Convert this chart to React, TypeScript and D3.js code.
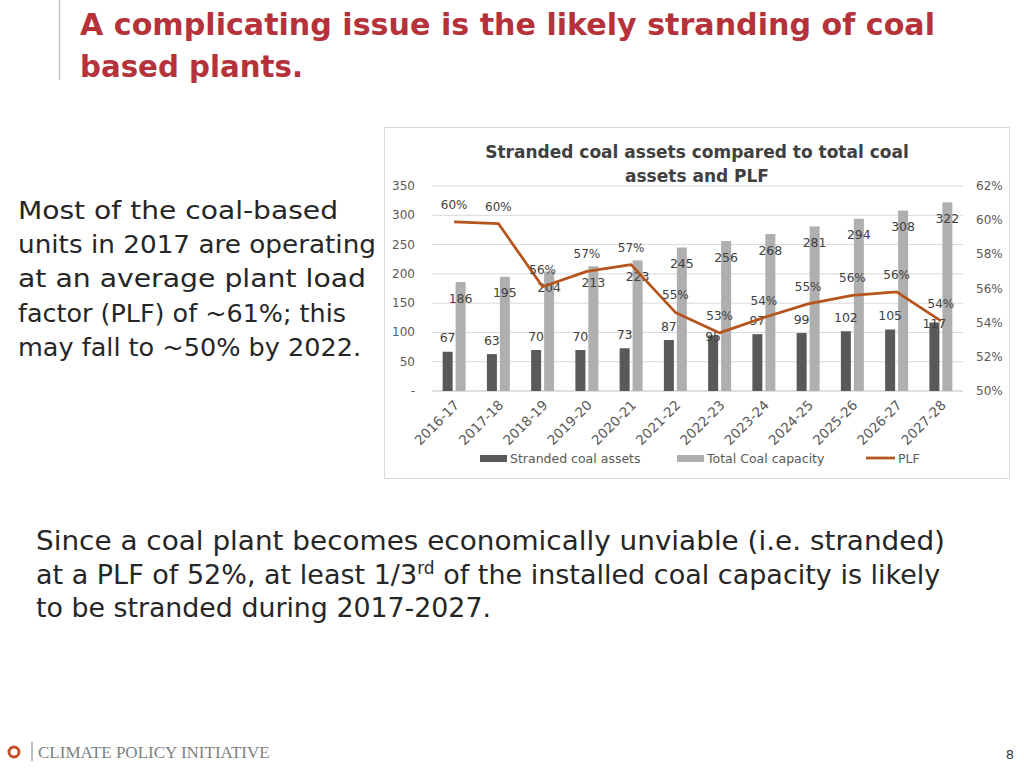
import React from "react";
import * as d3 from "d3";

const categories = ["2016-17","2017-18","2018-19","2019-20","2020-21","2021-22","2022-23","2023-24","2024-25","2025-26","2026-27","2027-28"];
const strandedAssets = [67,63,70,70,73,87,95,97,99,102,105,117];
const totalCapacity = [186,195,204,213,223,245,256,268,281,294,308,322];
const plf = [0.599,0.598,0.561,0.570,0.574,0.546,0.534,0.543,0.551,0.556,0.558,0.541];
const leftTicks = [0,50,100,150,200,250,300,350];
const rightTicks = [0.50,0.52,0.54,0.56,0.58,0.60,0.62];

const titleLines = ["A complicating issue is the likely stranding of coal", "based plants."];
const leftText = ["Most of the coal-based", "units in 2017 are operating", "at an average plant load", "factor (PLF) of ~61%; this", "may fall to ~50% by 2022."];

const FONT = "'DejaVu Sans', sans-serif";

export default function App() {
  const plotL = 432, plotR = 963, plotT = 186, plotB = 391;
  const x = d3.scaleBand<string>().domain(categories).range([plotL, plotR]);
  const x1 = d3.scaleBand<string>().domain(["s", "t"]).range([0, x.bandwidth()]).paddingInner(0.23).paddingOuter(0.82);
  const yL = d3.scaleLinear().domain([0, 350]).range([plotB, plotT]);
  const yR = d3.scaleLinear().domain([0.5, 0.62]).range([plotB, plotT]);
  const cx = (c: string) => (x(c) as number) + x.bandwidth() / 2;
  const line = d3.line<number>().x((_, i) => cx(categories[i])).y(d => yR(d));
  const fmtPct = d3.format(".0%");
  const axisColor = "#595959";
  const labelColor = "#404040";
  const lineColor = "#b5541c";

  const plfLabelY = (i: number) => yR(plf[i]) - 17;
  const darkLabelY = (i: number) => {
    const top = yL(strandedAssets[i]);
    const def = top - 14;
    return Math.abs(def - plfLabelY(i)) < 14 ? top + 1 : def;
  };

  return (
    <div style={{ position: "absolute", left: 0, top: 0 }}>
      <svg width={1024} height={768} style={{ display: "block", background: "#fff" }}>
        {/* slide title */}
        <line x1={59.5} x2={59.5} y1={0} y2={80} stroke="#bfbfbf" strokeWidth={1.5} />
        <text x={80} y={35} fontFamily={FONT} fontWeight={700} fontSize={31} fill="#b5323a" textLength={855} lengthAdjust="spacingAndGlyphs">{titleLines[0]}</text>
        <text x={80} y={77} fontFamily={FONT} fontWeight={700} fontSize={31} fill="#b5323a" textLength={223} lengthAdjust="spacingAndGlyphs">{titleLines[1]}</text>
        {/* left text */}
        {leftText.map((t, i) => (
          <text key={i} x={18} y={219 + i * 34.2} fontFamily={FONT} fontSize={24} fill="#262626"
            textLength={[320, 358, 348, 328, 343][i]} lengthAdjust="spacingAndGlyphs">{t}</text>
        ))}
        {/* bottom text */}
        <text x={36} y={550} fontFamily={FONT} fontSize={26} fill="#262626" textLength={909} lengthAdjust="spacingAndGlyphs">Since a coal plant becomes economically unviable (i.e. stranded)</text>
        <text x={36} y={584} fontFamily={FONT} fontSize={27} fill="#262626">
          at a PLF of 52%, at least 1/3<tspan fontSize={17} dy={-10}>rd</tspan><tspan dy={10}> of the installed coal capacity is likely</tspan>
        </text>
        <text x={36} y={617} fontFamily={FONT} fontSize={26} fill="#262626" textLength={455} lengthAdjust="spacingAndGlyphs">to be stranded during 2017-2027.</text>

        {/* chart frame */}
        <rect x={384.5} y={127.5} width={625} height={351} fill="#fff" stroke="#d9d9d9" />
        <text x={697} y={152} dominantBaseline="central" textAnchor="middle" fontFamily={FONT} fontWeight={700} fontSize={17} fill="#404040">Stranded coal assets compared to total coal</text>
        <text x={697} y={176} dominantBaseline="central" textAnchor="middle" fontFamily={FONT} fontWeight={700} fontSize={17} fill="#404040">assets and PLF</text>

        {/* gridlines */}
        {leftTicks.map(t => (
          <line key={t} x1={plotL} x2={plotR} y1={yL(t)} y2={yL(t)} stroke={t === 0 ? "#bfbfbf" : "#d9d9d9"} />
        ))}
        {/* left axis labels */}
        {leftTicks.map(t => (
          <text key={t} x={415} y={yL(t)} dominantBaseline="central" textAnchor="end" fontFamily={FONT} fontSize={12} fill={axisColor}>{t === 0 ? "-" : t}</text>
        ))}
        {/* right axis labels */}
        {rightTicks.map(t => (
          <text key={t} x={976} y={yR(t)} dominantBaseline="central" fontFamily={FONT} fontSize={12} fill={axisColor}>{fmtPct(t)}</text>
        ))}

        {/* bars */}
        {categories.map((c, i) => (
          <g key={c} transform={`translate(${x(c)},0)`}>
            <rect x={x1("s")} width={x1.bandwidth()} y={yL(strandedAssets[i])} height={plotB - yL(strandedAssets[i])} fill="#595959" />
            <rect x={x1("t")} width={x1.bandwidth()} y={yL(totalCapacity[i])} height={plotB - yL(totalCapacity[i])} fill="#afafaf" />
          </g>
        ))}
        {/* bar labels */}
        {categories.map((c, i) => (
          <g key={c} fontFamily={FONT} fontSize={12.5} fill={labelColor} textAnchor="middle" dominantBaseline="central">
            <text x={(x(c) as number) + (x1("s") as number) + x1.bandwidth() / 2} y={darkLabelY(i)}>{strandedAssets[i]}</text>
            <text x={(x(c) as number) + (x1("t") as number) + x1.bandwidth() / 2} y={yL(totalCapacity[i]) + 16}>{totalCapacity[i]}</text>
          </g>
        ))}
        {/* PLF line */}
        <path d={line(plf) || ""} fill="none" stroke={lineColor} strokeWidth={2.75} strokeLinejoin="round" />
        {categories.map((c, i) => (
          <text key={c} x={cx(c)} y={plfLabelY(i)} dominantBaseline="central" textAnchor="middle" fontFamily={FONT} fontSize={12} fill={labelColor}>{fmtPct(plf[i])}</text>
        ))}

        {/* x labels */}
        {categories.map(c => (
          <text key={c} transform={`translate(${cx(c) + 6},${plotB + 15}) rotate(-45)`} textAnchor="end" fontFamily={FONT} fontSize={13.5} fill={axisColor}>{c}</text>
        ))}

        {/* legend */}
        <g fontFamily={FONT} fontSize={12.5} fill={axisColor} dominantBaseline="central">
          <rect x={480} y={455} width={27} height={7} fill="#595959" />
          <text x={510} y={458}>Stranded coal assets</text>
          <rect x={677} y={455} width={27} height={7} fill="#afafaf" />
          <text x={707} y={458}>Total Coal capacity</text>
          <line x1={866} x2={895} y1={458} y2={458} stroke={lineColor} strokeWidth={2.75} />
          <text x={898} y={458}>PLF</text>
        </g>

        {/* footer */}
        <circle cx={14} cy={752} r={5} fill="none" stroke="#c0502a" strokeWidth={3} />
        <line x1={32} x2={32} y1={742} y2={761} stroke="#7f7f7f" strokeWidth={1} />
        <text x={38} y={758} fontFamily="'Liberation Serif', serif" fontSize={17} fill="#7f7f7f">CLIMATE POLICY INITIATIVE</text>
        <text x={1010} y={759} textAnchor="middle" fontFamily={FONT} fontSize={13} fill="#404040">8</text>
      </svg>
    </div>
  );
}
